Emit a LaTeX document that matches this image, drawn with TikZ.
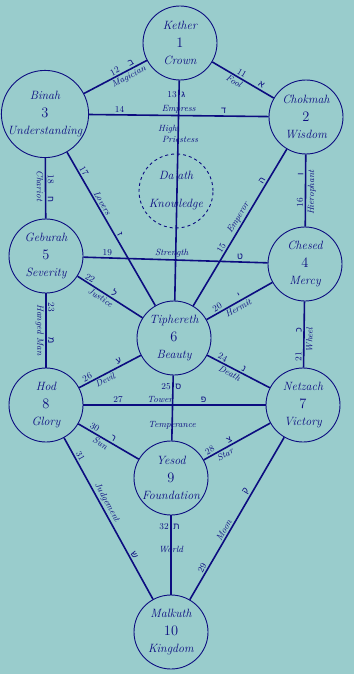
\documentclass[tikz,border=0pt]{standalone}
\usepackage{fontspec}
\usepackage{tikz}
\newfontfamily\hebfont[Script=Hebrew]{Liberation Sans}
\definecolor{paper}{HTML}{99CCCC}
\definecolor{ink}{HTML}{0C0C80}
\newcommand{\seph}[3]{#1\\[4pt]{\Large\upshape #2}\\[3pt]#3}

\begin{document}
\begin{tikzpicture}[
  x=1pt, y=-1pt,
  sephira/.style={
    circle,
    draw=ink,
    line width=0.9pt,
    minimum size=74pt,
    inner sep=0pt,
    align=center,
    text=ink,
    font=\large\itshape
  },
  hidden/.style={
    sephira,
    dashed
  },
  way/.style={draw=ink, line width=1.6pt},
  tag/.style={text=ink, inner sep=1.5pt, font=\small\itshape},
  num/.style={text=ink, inner sep=1.5pt, font=\small},
  letter/.style={text=ink, inner sep=1.5pt, font=\small\hebfont}
]

  \fill[paper] (0,0) rectangle (354,674);

  % the ten sephiroth and Da'ath
  \node[sephira] (kether)    at (180,43)  {\seph{Kether}{1}{Crown}};
  \node[sephira] (chokmah)   at (306,117) {\seph{Chokmah}{2}{Wisdom}};
  \node[sephira] (binah)     at (45,114)  {\seph{Binah}{3}{Understanding}};
  \node[hidden]  (daath)     at (176,191) {Da'ath\\[14pt]Knowledge};
  \node[sephira] (chesed)    at (305,264) {\seph{Chesed}{4}{Mercy}};
  \node[sephira] (geburah)   at (46,256)  {\seph{Geburah}{5}{Severity}};
  \node[sephira] (tiphareth) at (174,338) {\seph{Tiphereth}{6}{Beauty}};
  \node[sephira] (netzach)   at (303,405) {\seph{Netzach}{7}{Victory}};
  \node[sephira] (hod)       at (46,405)  {\seph{Hod}{8}{Glory}};
  \node[sephira] (yesod)     at (171,478) {\seph{Yesod}{9}{Foundation}};
  \node[sephira] (malkuth)   at (171,632) {\seph{Malkuth}{10}{Kingdom}};

  % the paths, with number, letter and trump
  \draw[way] (kether) --
    node[num,sloped,pos=.44,above] (n11) {11}
    node[letter,sloped,pos=.76,above] (h11) {א}
    node[tag,sloped,pos=.40,below] (t11) {Fool} (chokmah);
  \draw[way] (binah) --
    node[num,sloped,pos=.53,above] (n12) {12}
    node[letter,sloped,pos=.78,above] (h12) {ב}
    node[tag,sloped,pos=.67,below] (t12) {Magician} (kether);
  \draw[way] (kether) --
    node[num,pos=.065,left] (n13) {13}
    node[letter,pos=.065,right] (h13) {ג}
    node[tag,pos=.245,align=left] (t13) {High\\\hspace{4pt}Priestess} (tiphareth);
  \draw[way] (binah) --
    node[num,pos=.17,above] (n14) {14}
    node[tag,pos=.50,above] (t14) {Empress}
    node[letter,pos=.75,above] (h14) {ד} (chokmah);
  \draw[way] (tiphareth) --
    node[num,sloped,pos=.35,above] (n15) {15}
    node[tag,sloped,pos=.54,above] (t15) {Emperor}
    node[letter,sloped,pos=.78,above] (h15) {ה} (chokmah);
  \draw[way] (chesed) --
    node[num,sloped,pos=.33,above] (n16) {16}
    node[letter,sloped,pos=.73,above] (h16) {ו}
    node[tag,sloped,pos=.47,below] (t16) {Hierophant} (chokmah);
  \draw[way] (binah) --
    node[num,sloped,pos=.14,above] (n17) {17}
    node[tag,sloped,pos=.35,above] (t17) {Lovers}
    node[letter,sloped,pos=.55,above] (h17) {ז} (tiphareth);
  \draw[way] (binah) --
    node[num,sloped,pos=.35,above] (n18) {18}
    node[letter,sloped,pos=.69,above] (h18) {ח}
    node[tag,sloped,pos=.46,below] (t18) {Chariot} (geburah);
  \draw[way] (geburah) --
    node[num,pos=.13,above] (n19) {19}
    node[tag,pos=.48,above] (t19) {Strength}
    node[letter,pos=.85,above] (h19) {ט} (chesed);
  \draw[way] (tiphareth) --
    node[num,sloped,pos=.20,above] (n20) {20}
    node[letter,sloped,pos=.53,above] (h20) {י}
    node[tag,sloped,pos=.44,below] (t20) {Hermit} (chesed);
  \draw[way] (netzach) --
    node[num,sloped,pos=.16,above] (n21) {21}
    node[letter,sloped,pos=.57,above] (h21) {כ}
    node[tag,sloped,pos=.42,below] (t21) {Wheel} (chesed);
  \draw[way] (geburah) --
    node[num,sloped,pos=.15,above] (n22) {22}
    node[letter,sloped,pos=.52,above] (h22) {ל}
    node[tag,sloped,pos=.40,below] (t22) {Justice} (tiphareth);
  \draw[way] (geburah) --
    node[num,sloped,pos=.19,above] (n23) {23}
    node[letter,sloped,pos=.63,above] (h23) {מ}
    node[tag,sloped,pos=.49,below] (t23) {Hanged Man} (hod);
  \draw[way] (tiphareth) --
    node[num,sloped,pos=.21,above] (n24) {24}
    node[letter,sloped,pos=.55,above] (h24) {נ}
    node[tag,sloped,pos=.40,below] (t24) {Death} (netzach);
  \draw[way] (tiphareth) --
    node[num,pos=.17,left] (n25) {25}
    node[letter,pos=.17,right] (h25) {ס}
    node[tag,pos=.76] (t25) {Temperance} (yesod);
  \draw[way] (hod) --
    node[num,sloped,pos=.17,above] (n26) {26}
    node[letter,sloped,pos=.68,above] (h26) {ע}
    node[tag,sloped,pos=.38,below] (t26) {Devil} (tiphareth);
  \draw[way] (hod) --
    node[num,pos=.19,above] (n27) {27}
    node[tag,pos=.42,above] (t27) {Tower}
    node[letter,pos=.66,above] (h27) {פ} (netzach);
  \draw[way] (yesod) --
    node[num,sloped,pos=.13,above] (n28) {28}
    node[letter,sloped,pos=.42,above] (h28) {צ}
    node[tag,sloped,pos=.28,below] (t28) {Star} (netzach);
  \draw[way] (malkuth) --
    node[num,sloped,pos=.18,above] (n29) {29}
    node[tag,sloped,pos=.41,above] (t29) {Moon}
    node[letter,sloped,pos=.65,above] (h29) {ק} (netzach);
  \draw[way] (hod) --
    node[num,sloped,pos=.23,above] (n30) {30}
    node[letter,sloped,pos=.54,above] (h30) {ר}
    node[tag,sloped,pos=.41,below] (t30) {Sun} (yesod);
  \draw[way] (hod) --
    node[num,sloped,pos=.13,above] (n31) {31}
    node[tag,sloped,pos=.42,above] (t31) {Judgement}
    node[letter,sloped,pos=.74,above] (h31) {ש} (malkuth);
  \draw[way] (yesod) --
    node[num,pos=.14,left] (n32) {32}
    node[letter,pos=.14,right] (h32) {ת}
    node[tag,pos=.43] (t32) {World} (malkuth);

\end{tikzpicture}
\end{document}
